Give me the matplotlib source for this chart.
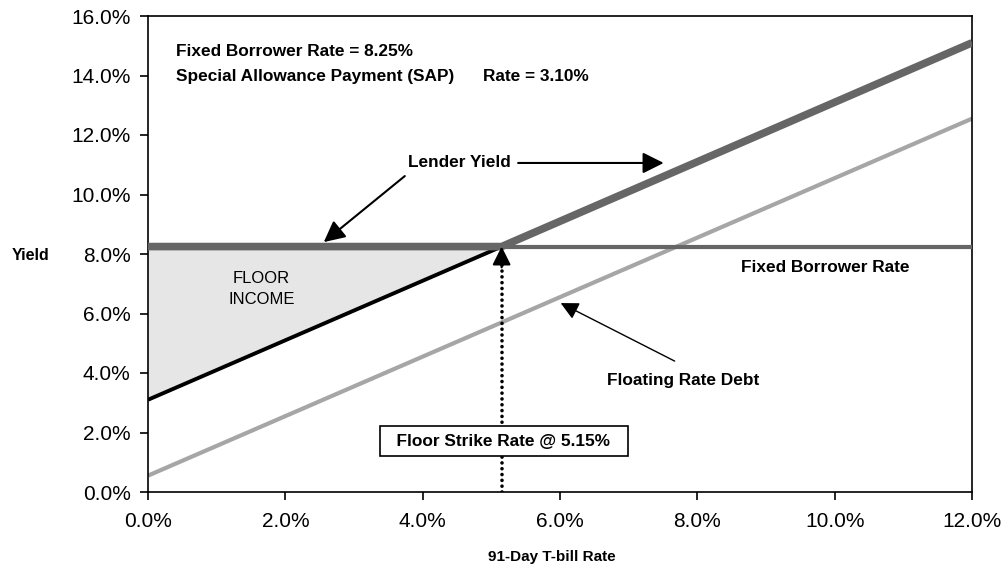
import matplotlib
matplotlib.use("Agg")
import matplotlib.pyplot as plt
from matplotlib.ticker import FuncFormatter, MultipleLocator

plt.rcParams['font.family'] = ['Liberation Sans', 'DejaVu Sans']

# Data (percent)
lender_x = [0.0, 5.15, 12.0]
lender_y = [8.25, 8.25, 15.10]
sap_x = [0.0, 5.15]
sap_y = [3.10, 8.25]
fixed_x = [0.0, 12.0]
fixed_y = [8.25, 8.25]
floating_x = [0.0, 12.0]
floating_y = [0.55, 12.55]
strike = 5.15
fixed_rate = 8.25

fig = plt.figure(figsize=(10.05, 5.66), dpi=100)
ax = fig.add_axes([148/1005, 1-492/566, 824/1005, 476/566])

ax.fill_between(sap_x, sap_y, [fixed_rate]*len(sap_x), color='#e6e6e6', lw=0, zorder=1)
ax.plot(floating_x, floating_y, color='#a6a6a6', lw=3.0, solid_capstyle='butt', zorder=2)
ax.plot(sap_x, sap_y, color='black', lw=2.8, solid_capstyle='butt', zorder=3)
ax.plot(fixed_x, fixed_y, color='#666666', lw=3.0, solid_capstyle='butt', zorder=3)
ax.plot(lender_x, lender_y, color='#666666', lw=5.5, solid_capstyle='butt', zorder=4)

# dotted strike line with arrow head
ax.plot([strike, strike], [0, fixed_rate - 0.55], color='black', lw=2.6,
        linestyle=(0, (0.01, 1.6)), dash_capstyle='round', zorder=5)
ax.annotate('', xy=(strike, fixed_rate), xytext=(strike, fixed_rate - 0.7),
            arrowprops=dict(arrowstyle='-|>', color='black', lw=1.5,
                            mutation_scale=28, shrinkA=0, shrinkB=0), zorder=6)

ax.set_xlim(0, 12)
ax.set_ylim(0, 16)
ax.xaxis.set_major_locator(MultipleLocator(2))
ax.yaxis.set_major_locator(MultipleLocator(2))
fmt = FuncFormatter(lambda v, p: f"{v:.1f}%")
ax.xaxis.set_major_formatter(fmt)
ax.yaxis.set_major_formatter(fmt)
ax.tick_params(axis='both', direction='out', length=5.5, width=1.2, labelsize=15, colors='black')
ax.tick_params(axis='x', pad=9)
ax.tick_params(axis='y', pad=7)
for s in ax.spines.values():
    s.set_color('black')
    s.set_linewidth(1.2)

FS = 12.4
bold = dict(fontsize=FS, fontweight='bold', color='black')
ax.text(0.41, 14.79, 'Fixed Borrower Rate = 8.25%', ha='left', va='center', **bold)
ax.text(0.41, 13.95, 'Special Allowance Payment (SAP)', ha='left', va='center', **bold)
ax.text(4.88, 13.95, 'Rate = 3.10%', ha='left', va='center', **bold)

ax.text(4.54, 11.06, 'Lender Yield', ha='center', va='center', **bold)
arr = dict(arrowstyle='-|>', color='black', lw=1.5, mutation_scale=32, shrinkA=0, shrinkB=0)
ax.annotate('', xy=(7.51, 11.06), xytext=(5.39, 11.06), arrowprops=arr)
ax.annotate('', xy=(2.56, 8.40), xytext=(3.74, 10.62), arrowprops=arr)

ax.text(1.65, 6.82, 'FLOOR\nINCOME', ha='center', va='center', fontsize=12,
        color='black', linespacing=1.5)
ax.text(9.87, 7.56, 'Fixed Borrower Rate', ha='center', va='center', **bold)
ax.text(7.79, 3.76, 'Floating Rate Debt', ha='center', va='center', **bold)
arr2 = dict(arrowstyle='-|>', color='black', lw=1.0, mutation_scale=27, shrinkA=0, shrinkB=0)
ax.annotate('', xy=(6.01, 6.35), xytext=(7.67, 4.40), arrowprops=arr2)

ax.text(5.18, 1.71, '  Floor Strike Rate @ 5.15%  ', ha='center', va='center', zorder=10,
        bbox=dict(boxstyle='square,pad=0.45', fc='white', ec='black', lw=1.2), **bold)

fig.text(31/1005, 1-255/566, 'Yield', ha='center', va='center',
         fontsize=11.5, fontweight='bold', color='black')
fig.text(552/1005, 1-557/566, '91-Day T-bill Rate', ha='center', va='center',
         fontsize=11, fontweight='bold', color='black')

fig.savefig('out.png', dpi=100)
